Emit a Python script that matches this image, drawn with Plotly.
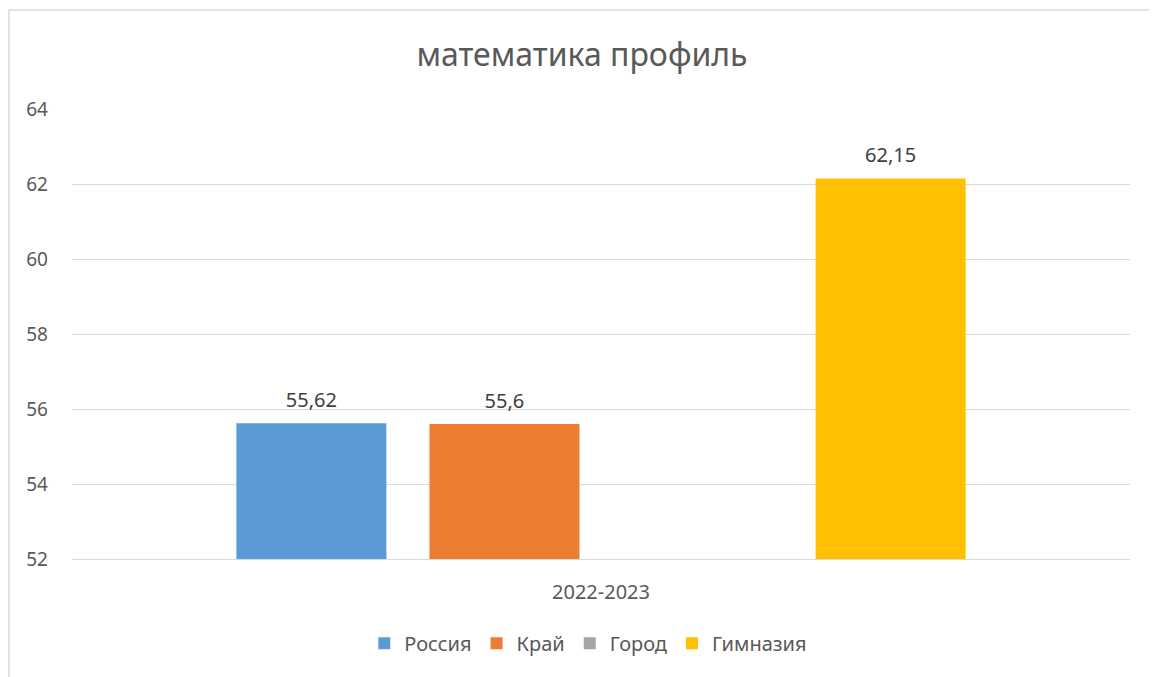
import plotly.graph_objects as go

# Данные
categories = ['2022-2023']
series_names = ['Россия', 'Край', 'Город', 'Гимназия']
series_values = [55.62, 55.6, None, 62.15]
series_colors = ['#5B9BD5', '#ED7D31', '#A5A5A5', '#FFC000']

FONT = 'Noto Sans, Open Sans, sans-serif'
GREY = '#595959'

fig = go.Figure()
for name, val, col in zip(series_names, series_values, series_colors):
    fig.add_trace(go.Bar(
        x=categories, y=[val], name=name,
        marker=dict(color=col, line=dict(width=0)),
        hoverinfo='name+y',
    ))

# подписи данных — отдельные текстовые точки, сгруппированные как столбцы
for name, val in zip(series_names, series_values):
    label = '' if val is None else str(val).replace('.', ',')
    fig.add_trace(go.Scatter(
        x=categories, y=[val], mode='markers+text', text=[label],
        textposition='top center',
        textfont=dict(size=20, color='#404040', family=FONT),
        marker=dict(size=16, opacity=0),
        showlegend=False, hoverinfo='skip', cliponaxis=False,
    ))

# рамка области диаграммы (обрезана справа и снизу)
fig.add_shape(type='rect', xref='paper', yref='paper',
              x0=(1 - 64) / 1058, x1=1.2, y0=-0.6, y1=(551 - 2) / 450,
              line=dict(color='#D9D9D9', width=1.5), fillcolor='rgba(0,0,0,0)',
              layer='below')

fig.update_layout(
    width=1149, height=669,
    paper_bgcolor='white', plot_bgcolor='white',
    margin=dict(l=64, r=27, t=101, b=118),
    title=dict(text='математика профиль', x=0.4996, xanchor='center',
               y=1 - 47 / 669, yanchor='middle',
               font=dict(size=32, color=GREY, family=FONT)),
    barmode='group', bargap=0.27, bargroupgap=0.223,
    scattermode='group', scattergap=0.27,
    showlegend=True,
    legend=dict(orientation='h', x=0.488, xanchor='center', y=-0.187, yanchor='middle',
                font=dict(size=20, color=GREY, family=FONT), traceorder='normal',
                itemwidth=30),
    font=dict(family=FONT, color=GREY),
)
fig.update_yaxes(range=[52, 64], dtick=2, showgrid=True, gridcolor='#D9D9D9', gridwidth=1,
                 zeroline=False, showline=False, ticks='',
                 tickfont=dict(size=19, color=GREY, family=FONT), ticklabelstandoff=23)
fig.update_xaxes(showline=True, linecolor='#D9D9D9', linewidth=1, ticks='',
                 tickfont=dict(size=20, color=GREY, family=FONT), ticklabelstandoff=15)

fig.write_html('out.html')
